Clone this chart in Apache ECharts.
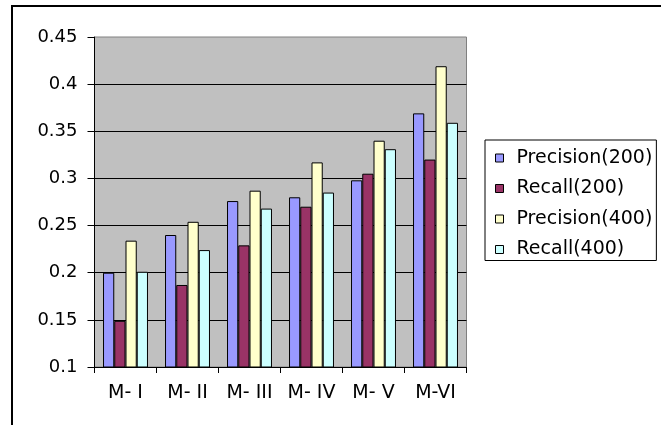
<!DOCTYPE html>
<html>
<head>
<meta charset="utf-8">
<script src="https://cdn.jsdelivr.net/npm/echarts@6/dist/echarts.min.js"></script>
<style>html,body{margin:0;padding:0;background:#fff;}#c{width:661px;height:425px;}</style>
</head>
<body>
<div id="c"></div>
<script>
const categories = ['M- I', 'M- II', 'M- III', 'M- IV', 'M- V', 'M-VI'];
const precision200 = [0.200, 0.240, 0.276, 0.280, 0.298, 0.369];
const recall200    = [0.149, 0.187, 0.229, 0.270, 0.305, 0.320];
const precision400 = [0.234, 0.254, 0.287, 0.317, 0.340, 0.419];
const recall400    = [0.201, 0.224, 0.268, 0.285, 0.331, 0.359];
const seriesNames = ['Precision(200)', 'Recall(200)', 'Precision(400)', 'Recall(400)'];
const yTicks = { min: 0.1, max: 0.45, step: 0.05 };

const colors = ['#9999FF', '#993366', '#FFFFCC', '#CCFFFF'];
const font = 'DejaVu Sans';
const chart = echarts.init(document.getElementById('c'));
const data = [precision200, recall200, precision400, recall400];

chart.setOption({
  animation: false,
  backgroundColor: '#fff',
  graphic: [
    { type: 'rect', z: 100, silent: true,
      shape: { x: 12, y: 6, width: 700, height: 500 },
      style: { fill: 'none', stroke: '#000', lineWidth: 2 } }
  ],
  grid: {
    left: 94.5, right: 194.5, top: 37, bottom: 58,
    show: true, backgroundColor: '#C0C0C0', borderColor: '#808080', borderWidth: 1,
    containLabel: false
  },
  legend: {
    orient: 'vertical', left: 485, top: 140,
    data: seriesNames,
    icon: 'rect', itemWidth: 8, itemHeight: 8, itemGap: 10.5,
    borderColor: '#000', borderWidth: 1,
    padding: [8, 4, 1, 10],
    itemStyle: { borderColor: '#000', borderWidth: 1 },
    textStyle: { fontFamily: font, fontSize: 19, color: '#000', lineHeight: 20, padding: [0, 0, 0, 8] }
  },
  xAxis: {
    type: 'category', data: categories,
    axisLine: { lineStyle: { color: '#000', width: 1 } },
    axisTick: { show: true, length: 6, interval: 0, lineStyle: { color: '#000' } },
    axisLabel: { fontFamily: font, fontSize: 19, color: '#000', margin: 17, interval: 0 }
  },
  yAxis: {
    type: 'value', min: yTicks.min, max: yTicks.max, interval: yTicks.step,
    axisLine: { show: true, lineStyle: { color: '#000', width: 1 } },
    axisTick: { show: true, length: 7, lineStyle: { color: '#000' } },
    axisLabel: { fontFamily: font, fontSize: 18, color: '#000', margin: 17,
      formatter: v => String(parseFloat(v.toFixed(2))) },
    splitLine: { show: true, showMinLine: false, showMaxLine: false, lineStyle: { color: '#000', width: 1 } }
  },
  series: seriesNames.map((n, i) => ({
    name: n, type: 'bar', data: data[i],
    barGap: '0%', barCategoryGap: '27.5%',
    itemStyle: { color: colors[i], borderColor: '#000', borderWidth: 1 }
  }))
});
</script>
</body>
</html>
